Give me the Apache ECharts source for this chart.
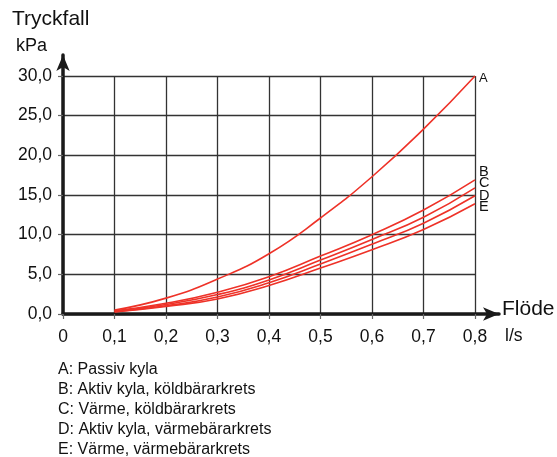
<!DOCTYPE html>
<html>
<head>
<meta charset="utf-8">
<script src="https://cdn.jsdelivr.net/npm/echarts@6/dist/echarts.min.js"></script>
<style>
html,body{margin:0;padding:0;background:#fff;}
#c{width:557px;height:457px;}
</style>
</head>
<body>
<div id="c"></div>
<script>
const flows = [0.1, 0.2, 0.3, 0.4, 0.5, 0.6, 0.7, 0.8];
const curveA = [0.5, 2.0, 4.4, 7.6, 12.1, 17.3, 23.3, 30.0];
const curveB = [0.4, 1.35, 2.75, 4.7, 7.3, 10.0, 13.1, 16.9];
const curveC = [0.35, 1.2, 2.45, 4.3, 6.8, 9.4, 12.2, 15.9];
const curveD = [0.3, 1.05, 2.15, 3.95, 6.3, 8.8, 11.45, 14.9];
const curveE = [0.25, 0.95, 1.9, 3.6, 5.8, 8.1, 10.65, 13.9];
const curveNames = ['A', 'B', 'C', 'D', 'E'];
const legendLines = [
  'A: Passiv kyla',
  'B: Aktiv kyla, köldbärarkrets',
  'C: Värme, köldbärarkrets',
  'D: Aktiv kyla, värmebärarkrets',
  'E: Värme, värmebärarkrets'
];
const yTitle = 'Tryckfall';
const yUnit = 'kPa';
const xTitle = 'Flöde';
const xUnit = 'l/s';

const curves = [curveA, curveB, curveC, curveD, curveE];
const labelOffsets = [[0, 2], [0, -8], [0, -5], [0, 0], [0, 3]];
const RED = '#ee3228';
const FONT = '"Liberation Sans", Arial, sans-serif';

const chart = echarts.init(document.getElementById('c'), null, {renderer: 'canvas'});

const series = curves.map((vals, i) => ({
  name: curveNames[i],
  type: 'line',
  xAxisIndex: 0,
  yAxisIndex: 0,
  data: flows.map((q, j) => [q, vals[j]]),
  smooth: 0.5,
  showSymbol: false,
  symbol: 'none',
  lineStyle: {color: RED, width: 1.6},
  z: 3,
  endLabel: {
    show: true,
    formatter: curveNames[i],
    color: '#111',
    fontFamily: FONT,
    fontSize: i === 0 ? 13 : 14.5,
    distance: 4,
    offset: labelOffsets[i]
  }
}));

const fmt = v => v.toFixed(1).replace('.', ',');

const option = {
  backgroundColor: '#fff',
  animation: false,
  grid: [
    {left: 63, right: 82, top: 76, bottom: 143},
    {left: 63, right: 58, top: 55, bottom: 143}
  ],
  xAxis: [
    {
      type: 'value', gridIndex: 0, min: 0, max: 0.8, interval: 0.1,
      axisLine: {show: false},
      axisTick: {show: true, length: 5, lineStyle: {color: '#666', width: 1.2}},
      axisLabel: {
        margin: 14, color: '#111', fontFamily: FONT, fontSize: 17.5,
        formatter: v => (Math.abs(v) < 1e-9 ? '0' : fmt(v))
      },
      splitLine: {show: true, lineStyle: {color: '#333', width: 1.3}}
    },
    {
      type: 'value', gridIndex: 1, min: 0, max: 1,
      axisLine: {show: true, symbol: ['none', 'arrow'], symbolSize: [10, 16],
        lineStyle: {color: '#1a1a1a', width: 3.5}},
      axisTick: {show: false}, axisLabel: {show: false}, splitLine: {show: false}
    }
  ],
  yAxis: [
    {
      type: 'value', gridIndex: 0, min: 0, max: 30, interval: 5,
      axisLine: {show: false},
      axisTick: {show: true, length: 5, lineStyle: {color: '#666', width: 1.2}},
      axisLabel: {
        margin: 11, color: '#111', fontFamily: FONT, fontSize: 17.5,
        formatter: v => fmt(v)
      },
      splitLine: {show: true, lineStyle: {color: '#333', width: 1.3}}
    },
    {
      type: 'value', gridIndex: 1, min: 0, max: 1,
      axisLine: {show: true, symbol: ['none', 'arrow'], symbolSize: [10, 16],
        lineStyle: {color: '#1a1a1a', width: 3.5}},
      axisTick: {show: false}, axisLabel: {show: false}, splitLine: {show: false}
    }
  ],
  series: series,
  graphic: [
    {type: 'text', left: 12, top: 9, style: {text: yTitle, fill: '#111', font: '21px ' + FONT}},
    {type: 'text', left: 16, top: 37, style: {text: yUnit, fill: '#111', font: '18px ' + FONT}},
    {type: 'text', left: 502, top: 299, style: {text: xTitle, fill: '#111', font: '21px ' + FONT}},
    {type: 'text', left: 505, top: 327, style: {text: xUnit, fill: '#111', font: '17.5px ' + FONT}},
    {type: 'text', left: 58, top: 360, style: {
      text: legendLines.join('\n'), fill: '#111', font: '16px ' + FONT, lineHeight: 20
    }}
  ]
};
chart.setOption(option);
</script>
</body>
</html>
